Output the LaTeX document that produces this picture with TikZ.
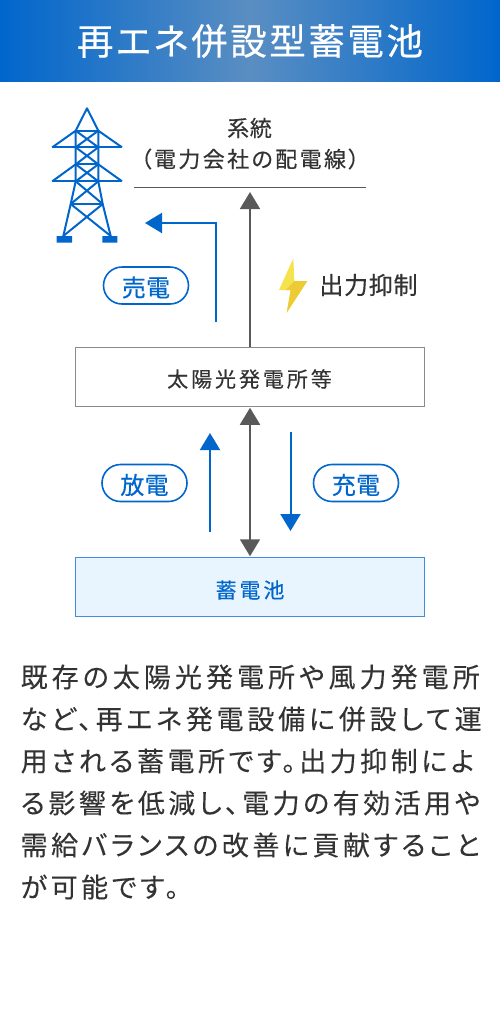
\documentclass[tikz,border=0pt]{standalone}
\usepackage{fontspec}
\setmainfont{Noto Sans CJK JP}
\usetikzlibrary{positioning,arrows.meta,calc}
\definecolor{blue}{HTML}{0066CC}
\definecolor{mid}{HTML}{5A8EC2}
\definecolor{ink}{HTML}{333333}
\definecolor{arrowgray}{HTML}{595959}
\definecolor{boxline}{HTML}{8A8A8A}
\definecolor{battfill}{HTML}{E8F4FE}
\definecolor{battline}{HTML}{3F8DDB}
\definecolor{boltlight}{HTML}{F6E24F}
\definecolor{boltdark}{HTML}{ECCB35}
\newcommand{\jp}[2]{\fontsize{#1}{#1}\selectfont\addfontfeature{LetterSpace=#2,RawFeature=+palt,FakeBold=0.4}}
\newcommand{\jpbody}[1]{\fontsize{27}{27}\selectfont\addfontfeature{LetterSpace=#1,RawFeature=+palt,FakeBold=0.1}}
\tikzset{
  pill/.style={draw=blue,text=blue,line width=1.6pt,rounded corners=18.5pt,minimum width=85pt,minimum height=37pt,inner sep=0pt,text depth=0pt,font=\jp{24}{1}},
  sitebox/.style={line width=1pt,minimum width=349pt,minimum height=58.5pt,inner sep=0pt},
  grayarrow/.style={arrowgray,line width=1.8pt,-{Triangle[length=17pt,width=20pt]}},
  bluearrow/.style={blue,line width=2pt,-{Triangle[length=17pt,width=20pt]}},
  bodyline/.style={anchor=west,inner sep=0pt,text=ink,font=\jpbody{13}},
  tower/.style={blue,line width=2pt,line join=round}
}
\begin{document}
\begin{tikzpicture}[x=1pt,y=-1pt]
  \useasboundingbox (0,0) rectangle (500,1012);
  \fill[left color=blue,right color=blue,middle color=mid] (0,0) rectangle (500,81.5);
  \node[text=white,inner sep=0pt,font=\jp{36.5}{7}] (title) at (250,41){再エネ併設型蓄電池};
  % tower
  \draw[tower] (75.7,130.7)--(87,108.3)--(98.3,130.7);
  \draw[tower] (52.3,147.3)--(75.7,130.7)--(75.7,181.3)--(70.7,204)--(63.3,236);
  \draw[tower] (122,147.3)--(98.3,130.7)--(98.3,181.3)--(102.7,204)--(110.7,236);
  \draw[tower] (52.3,147.3)--(122,147.3) (52.3,181.3)--(122,181.3);
  \draw[tower] (52.3,181.3)--(75.7,164.3) (122,181.3)--(98.3,164.3);
  \draw[tower] (75.7,130.7)--(98.3,130.7) (75.7,164.3)--(98.3,164.3) (70.7,204)--(102.7,204);
  \draw[tower] (75.7,130.7)--(98.3,147.3) (98.3,130.7)--(75.7,147.3);
  \draw[tower] (75.7,147.3)--(98.3,164.3) (98.3,147.3)--(75.7,164.3);
  \draw[tower] (75.7,164.3)--(98.3,181.3) (98.3,164.3)--(75.7,181.3);
  \draw[tower] (75.7,181.3)--(102.7,204) (98.3,181.3)--(70.7,204);
  \draw[tower] (70.7,204)--(110.7,236) (102.7,204)--(63.3,236);
  \fill[blue] (56.7,236) rectangle (72,242.7) (102.3,236) rectangle (117.3,242.7);
  % grid
  \node[text=ink,inner sep=0pt,font=\jp{22}{3}] (grid) at (249.5,128){系統};
  \node[text=ink,inner sep=0pt,font=\jp{22}{11}] (power) at (250,159){（電力会社の配電線）};
  \coordinate (gridl) at (134,187.5);
  \coordinate (gridr) at (366,187.5);
  \coordinate (gridin) at (250,192);
  \draw[arrowgray,line width=1.5pt] (gridl)--(gridr);
  % boxes
  \node[sitebox,draw=boxline,text=ink] (plant) at (250,377){};
  \node[text=ink,inner sep=0pt,font=\jp{21}{14}] (plantname) at (249.5,379){太陽光発電所等};
  \node[sitebox,draw=battline,fill=battfill,text=blue] (batt) at (250,587){};
  \node[text=blue,inner sep=0pt,font=\jp{21}{14}] (battname) at (250,590){蓄電池};
  \draw[grayarrow] (plant.north)--(gridin);
  \draw[grayarrow,{Triangle[length=17pt,width=20pt]}-{Triangle[length=17pt,width=20pt]},shorten <=1pt,shorten >=1pt] (plant.south)--(batt.north);
  % sell
  \coordinate (sellfrom) at (216,322);
  \coordinate (sellto) at (145,223);
  \draw[bluearrow] (sellfrom)|-(sellto);
  \node[pill] (sell) at (146,285.5){\raisebox{-2pt}{売電}};
  % discharge and charge
  \coordinate (disfrom) at (210,532);
  \coordinate (disto) at (210,433);
  \coordinate (chgfrom) at (290.5,432);
  \coordinate (chgto) at (290.5,531);
  \draw[bluearrow] (disfrom)--(disto);
  \draw[bluearrow] (chgfrom)--(chgto);
  \node[pill] (dis) at (144.5,483){\raisebox{-2pt}{放電}};
  \node[pill] (chg) at (356,483){\raisebox{-2pt}{充電}};
  % bolt
  \fill[boltlight] (293.3,258.3)--(279,290)--(290.7,290)--(286.7,312.7)--(307.3,281)--(294.3,281)--cycle;
  \fill[boltdark] (294.3,281)--(307.3,281)--(286.7,312.7)--(290.7,290)--(286,290)--cycle;
  \node[text=ink,inner sep=0pt,font=\jp{24}{3}] (limit) at (368.5,285){出力抑制};
  % body
  \node[bodyline,font=\jpbody{15}] (l1) at (20.5,677){既存の太陽光発電所や風力発電所};
  \node[bodyline,font=\jpbody{14}] (l2) at (20.5,719){など、再エネ発電設備に併設して運};
  \node[bodyline] (l3) at (20.5,761){用される蓄電所です。出力抑制によ};
  \node[bodyline] (l4) at (20.5,803){る影響を低減し、電力の有効活用や};
  \node[bodyline] (l5) at (20.5,845){需給バランスの改善に貢献すること};
  \node[bodyline] (l6) at (20.5,887){が可能です。};
\end{tikzpicture}
\end{document}
